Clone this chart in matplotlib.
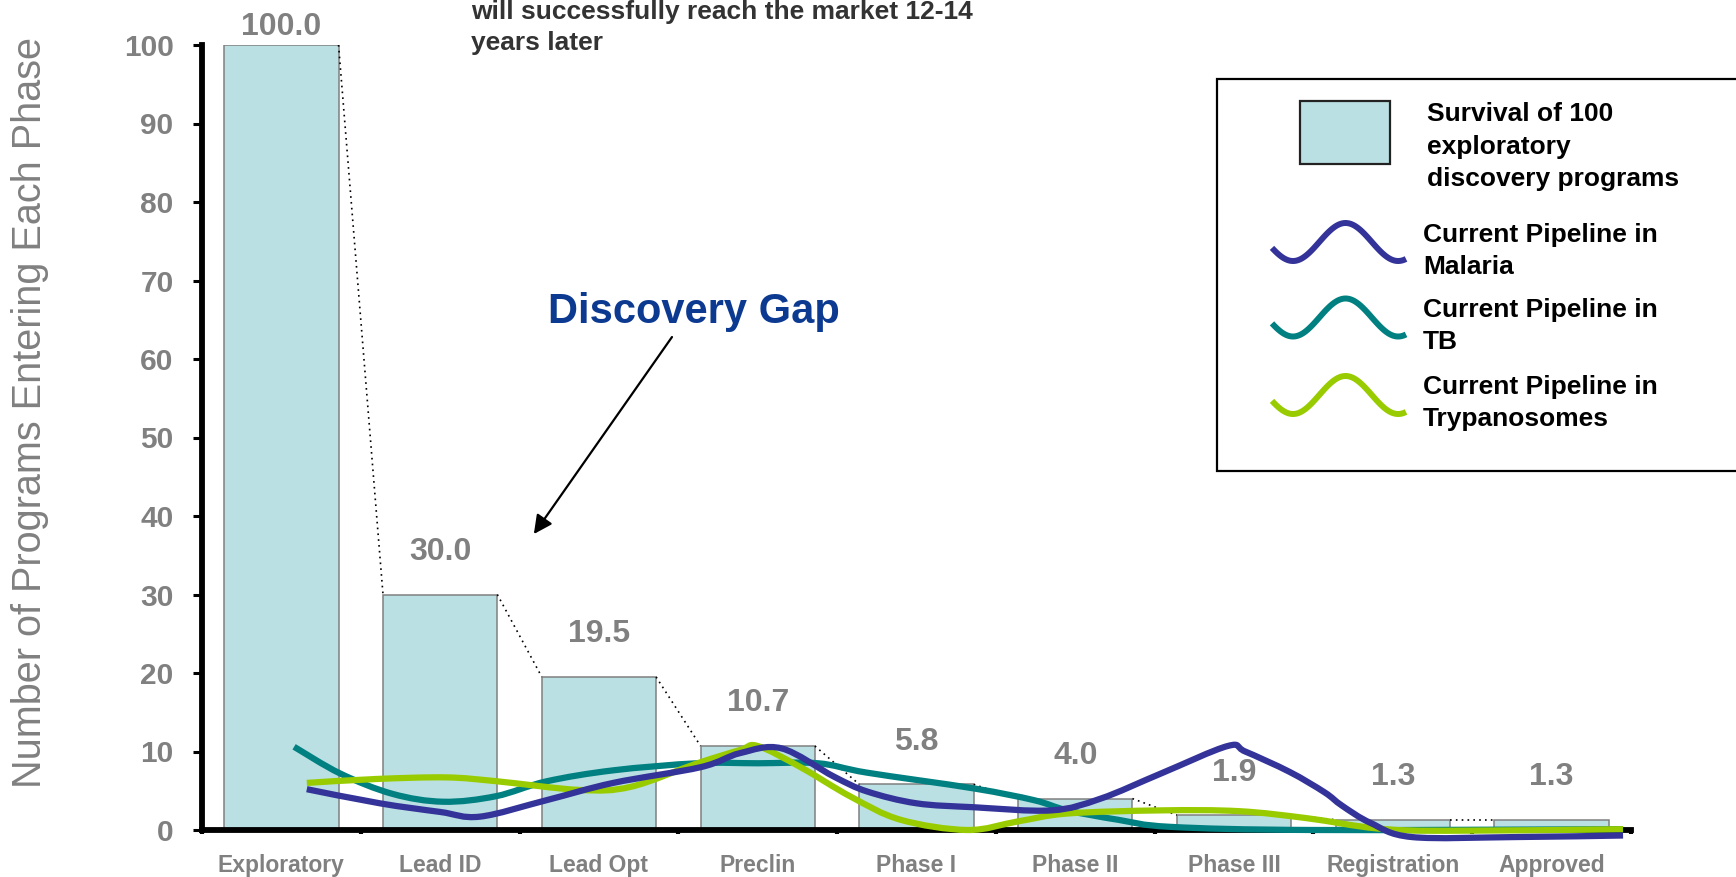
import numpy as np
import matplotlib
matplotlib.use("Agg")
import matplotlib.pyplot as plt
from matplotlib.path import Path
from matplotlib.patches import PathPatch, Rectangle
from matplotlib.lines import Line2D

plt.rcParams['font.family'] = ['Liberation Sans', 'DejaVu Sans']

phases = ['Exploratory', 'Lead ID', 'Lead Opt', 'Preclin', 'Phase I',
          'Phase II', 'Phase III', 'Registration', 'Approved']
survival = [100.0, 30.0, 19.5, 10.7, 5.8, 4.0, 1.9, 1.3, 1.3]

# hand drawn pipeline curves (x in category units)
malaria_x = [0.16, 0.62, 1.0, 1.25, 1.67, 2.09, 2.64, 2.89, 3.15, 3.48, 3.69, 4.0,
             4.36, 4.85, 5.16, 5.54, 5.96, 6.07, 6.35, 6.57, 6.68, 6.86, 7.12, 7.77, 8.45]
malaria_y = [5.2, 3.4, 2.3, 1.7, 3.8, 6.0, 8.0, 9.8, 10.4, 6.8, 4.9, 3.4,
             2.9, 2.5, 4.0, 7.2, 10.7, 10.0, 7.4, 4.8, 3.1, 0.9, -0.9, -0.9, -0.7]
tb_x = [0.08, 0.37, 0.7, 1.02, 1.35, 1.67, 2.09, 2.62, 3.0, 3.38, 3.69, 4.36,
        4.74, 4.95, 5.27, 5.6, 6.5, 8.45]
tb_y = [10.6, 7.2, 4.6, 3.6, 4.3, 6.2, 7.6, 8.5, 8.5, 8.5, 7.3, 5.3,
        3.8, 2.5, 1.3, 0.4, 0.0, 0.1]
tryp_x = [0.16, 0.6, 1.04, 1.36, 1.88, 2.2, 2.62, 2.89, 3.0, 3.27, 3.59, 3.9,
          4.32, 4.64, 4.95, 5.54, 6.03, 6.46, 6.9, 7.33, 8.45]
tryp_y = [6.0, 6.5, 6.7, 6.2, 5.1, 5.5, 8.5, 10.2, 10.7, 8.0, 4.2, 1.3,
          0.0, 1.1, 2.1, 2.5, 2.4, 1.5, 0.2, -0.1, 0.1]

GRAY = '#808080'
BAR = '#BAE0E3'
C_MAL = '#333399'
C_TB = '#008080'
C_TRY = '#99CC00'

W, H = 1736, 877
fig = plt.figure(figsize=(W / 100, H / 100), dpi=100)
ax = fig.add_axes([202 / W, 1 - 830 / H, (1631 - 202) / W, (830 - 45) / H])

x = np.arange(len(phases))
bw = 0.72
ax.bar(x, survival, width=bw, color=BAR, edgecolor=GRAY, linewidth=1.1, zorder=2)

# series lines between bar tops
for i in range(len(survival) - 1):
    ax.plot([x[i] + bw / 2, x[i + 1] - bw / 2], [survival[i], survival[i + 1]],
            color='black', linestyle=(0, (1, 2.5)), linewidth=1.2, zorder=3)

for xi, v in zip(x, survival):
    ax.text(xi, min(v + 4.4, 101.3), f'{v:.1f}', ha='center', va='baseline',
            fontsize=23, fontweight='bold', color=GRAY, zorder=6)


def smooth_path(xs, ys):
    pts = np.column_stack([xs, ys])
    verts = [pts[0]]
    codes = [Path.MOVETO]
    n = len(pts)
    for i in range(n - 1):
        p0 = pts[i - 1] if i > 0 else pts[i]
        p1, p2 = pts[i], pts[i + 1]
        p3 = pts[i + 2] if i + 2 < n else pts[i + 1]
        verts += [p1 + (p2 - p0) / 6, p2 - (p3 - p1) / 6, p2]
        codes += [Path.CURVE4] * 3
    return Path(verts, codes)


for xs, ys, c, z in [(tb_x, tb_y, C_TB, 4), (tryp_x, tryp_y, C_TRY, 4.5),
                     (malaria_x, malaria_y, C_MAL, 5)]:
    ax.add_patch(PathPatch(smooth_path(xs, ys), fill=False, edgecolor=c, lw=4.5,
                           capstyle='butt', joinstyle='round', clip_on=False, zorder=z))

ax.set_xlim(-0.5, 8.5)
ax.set_ylim(0, 100)
ax.set_yticks(np.arange(0, 101, 10))
ax.set_xticks(x)
ax.set_xticklabels(phases)
ax.set_xticks(np.arange(-0.5, 9, 1), minor=True)
for s in ['top', 'right']:
    ax.spines[s].set_visible(False)
for s in ['left', 'bottom']:
    ax.spines[s].set_linewidth(4.2)
    ax.spines[s].set_zorder(3.5)
ax.tick_params(axis='y', direction='out', length=6.5, width=2.2, pad=14,
               labelsize=21.5, labelcolor=GRAY)
ax.tick_params(axis='x', which='major', length=0, pad=17, labelsize=16.5, labelcolor=GRAY)
ax.tick_params(axis='x', which='minor', direction='out', length=3, width=3)
for lab in ax.get_xticklabels() + ax.get_yticklabels():
    lab.set_fontweight('bold')

fig.text(30 / W, 1 - 413 / H, 'Number of Programs Entering Each Phase', rotation=90,
         ha='center', va='center', fontsize=28.5, color=GRAY)

# text at the top
fig.text(471 / W, 1 - 19 / H, 'will successfully reach the market 12-14',
         ha='left', va='baseline', fontsize=19, fontweight='bold', color='#333333')
fig.text(471 / W, 1 - 50 / H, 'years later',
         ha='left', va='baseline', fontsize=19, fontweight='bold', color='#333333')

# discovery gap note
ax.text(1.68, 64.6, 'Discovery Gap', ha='left', va='baseline', fontsize=30,
        fontweight='bold', color='#0D3A91')
ax.annotate('', xy=(1.59, 37.7), xytext=(2.46, 62.8),
            arrowprops=dict(arrowstyle='-|>', color='black', lw=1.6,
                            mutation_scale=28, shrinkA=0, shrinkB=0))

# legend drawn by hand (box runs off the right edge)
def fx(px):
    return px / W


def fy(py):
    return 1 - py / H


fig.patches.append(Rectangle((fx(1217), fy(471)), fx(1760) - fx(1217), fy(79.4) - fy(471),
                             transform=fig.transFigure, facecolor='white',
                             edgecolor='black', linewidth=1.6, zorder=1))
fig.patches.append(Rectangle((fx(1300), fy(164)), fx(1390) - fx(1300), fy(101) - fy(164),
                             transform=fig.transFigure, facecolor=BAR,
                             edgecolor='#222222', linewidth=1.6, zorder=2))
for i, line in enumerate(['Survival of 100', 'exploratory', 'discovery programs']):
    fig.text(fx(1427), fy(121 + 32.6 * i), line, ha='left', va='baseline',
             fontsize=19, fontweight='bold', color='black', zorder=3)

wave_t = np.linspace(0.1 * np.pi, 2.65 * np.pi, 120)
wave_px = 1272 + (wave_t - wave_t[0]) / (wave_t[-1] - wave_t[0]) * (1406 - 1272)
entries = [('Malaria', C_MAL, 242, 241.6), ('TB', C_TB, 317.5, 317),
           ('Trypanosomes', C_TRY, 395, 394)]
for name, c, cy, base in entries:
    wave_py = cy + 19 * np.sin(wave_t)
    fig.add_artist(Line2D(fx(wave_px), fy(wave_py), color=c, lw=4.3,
                          transform=fig.transFigure, solid_capstyle='butt', zorder=3))
    fig.text(fx(1423), fy(base), 'Current Pipeline in', ha='left', va='baseline',
             fontsize=19, fontweight='bold', color='black', zorder=3)
    fig.text(fx(1423), fy(base + 32), name, ha='left', va='baseline',
             fontsize=19, fontweight='bold', color='black', zorder=3)

fig.savefig('out.png', dpi=100)
